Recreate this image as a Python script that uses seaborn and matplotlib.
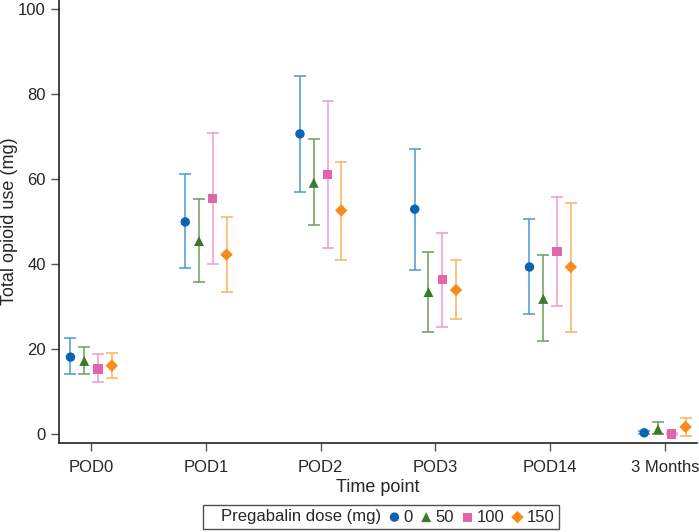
import numpy as np
import pandas as pd
from matplotlib import pyplot as plt
import seaborn as sns

timepoints = ['POD0', 'POD1', 'POD2', 'POD3', 'POD14', '3 Months']
doses = ['0', '50', '100', '150']

# mean and CI limits per dose, one value per time point
mean_0 = [18.1, 49.9, 70.6, 52.9, 39.3, 0.3]
low_0 = [14.1, 39.1, 56.9, 38.6, 28.2, 0.0]
high_0 = [22.6, 61.2, 84.2, 67.1, 50.6, 0.8]

mean_50 = [17.2, 45.4, 59.1, 33.4, 31.8, 1.1]
low_50 = [14.1, 35.8, 49.2, 24.0, 21.9, 0.0]
high_50 = [20.5, 55.4, 69.4, 42.8, 42.2, 2.8]

mean_100 = [15.3, 55.5, 61.0, 36.3, 42.9, 0.0]
low_100 = [12.2, 40.0, 43.8, 25.2, 30.1, -0.3]
high_100 = [18.8, 70.7, 78.3, 47.3, 55.7, 0.3]

mean_150 = [16.1, 42.2, 52.6, 33.9, 39.3, 1.7]
low_150 = [13.2, 33.3, 40.9, 27.0, 24.1, -0.4]
high_150 = [19.1, 51.1, 64.1, 40.9, 54.4, 3.8]

rows = []
for d, m, lo, hi in zip(doses, [mean_0, mean_50, mean_100, mean_150],
                        [low_0, low_50, low_100, low_150],
                        [high_0, high_50, high_100, high_150]):
    for i, t in enumerate(timepoints):
        rows.append({'Time point': t, 'pos': i, 'dose': d, 'mean': m[i], 'lo': lo[i], 'hi': hi[i]})
df = pd.DataFrame(rows)

offsets = {'0': -0.18, '50': -0.06, '100': 0.06, '150': 0.18}
df['x'] = df['pos'] + df['dose'].map(offsets)

marker_colors = {'0': '#0a64b4', '50': '#3b7a2e', '100': '#e065aa', '150': '#fb8a1c'}
bar_colors = {'0': '#4b98d6', '50': '#6e9e5e', '100': '#f09acb', '150': '#fdb25c'}
markers = {'0': 'o', '50': '^', '100': 's', '150': 'D'}
sizes = {'0': 46, '50': 52, '100': 44, '150': 40}

sns.set_style('white')
plt.rcParams['font.family'] = ['Liberation Sans', 'DejaVu Sans']

fig, ax = plt.subplots(figsize=(6.99, 5.32), dpi=100)
fig.subplots_adjust(left=59 / 699, right=697 / 699, bottom=(532 - 443) / 532, top=1.0)

for d in doses:
    sub = df[df['dose'] == d]
    ax.errorbar(sub['x'], sub['mean'], yerr=[sub['mean'] - sub['lo'], sub['hi'] - sub['mean']],
                fmt='none', ecolor=bar_colors[d], elinewidth=1.1, capsize=4, capthick=1.1, zorder=2)
    sns.scatterplot(x='x', y='mean', data=sub, marker=markers[d], color=marker_colors[d],
                    s=sizes[d], edgecolor='none', ax=ax, zorder=3, label=d)

ax.set_xlim(-0.28, 5.28)
ax.set_ylim(-2.1, 102.1)
ax.set_xticks(range(len(timepoints)))
ax.set_xticklabels(timepoints)
ax.set_yticks([0, 20, 40, 60, 80, 100])
ax.set_xlabel('Time point', fontsize=13, labelpad=3)
ax.set_ylabel('Total opioid use (mg)', fontsize=13)
ax.yaxis.set_label_coords(-41 / 638, 0.5)
ax.tick_params(axis='both', labelsize=12, length=6, width=1, color='#555555', left=True, bottom=True)
ax.tick_params(axis='x', pad=6)
for s in ['top', 'right']:
    ax.spines[s].set_visible(False)
for s in ['left', 'bottom']:
    ax.spines[s].set_color('#222222')
    ax.spines[s].set_linewidth(1.2)

handles, labels = ax.get_legend_handles_labels()
title_handle = plt.Line2D([], [], linestyle='none', marker='')
leg = ax.legend([title_handle] + handles, ['Pregabalin dose (mg)'] + labels, ncol=5,
                loc='center', bbox_to_anchor=(381 / 699, (532 - 517) / 532), bbox_transform=fig.transFigure,
                frameon=True, fancybox=False, edgecolor='#222222', fontsize=12,
                handlelength=0.5, handletextpad=0.3, columnspacing=0.55, borderpad=0.25,
                borderaxespad=0.0)
leg.get_frame().set_linewidth(1.0)

fig.savefig('out.png', dpi=100)
